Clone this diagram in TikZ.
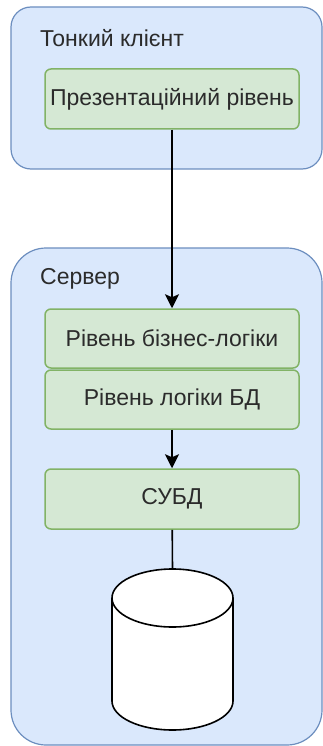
\documentclass[tikz,border=0pt]{standalone}
\usepackage{fontspec}
\setmainfont{Liberation Sans}
\usepackage{xcolor}
\definecolor{tierBlue}{HTML}{DAE8FC}
\definecolor{tierBlueLine}{HTML}{6C8EBF}
\definecolor{layerGreen}{HTML}{D5E8D4}
\definecolor{layerGreenLine}{HTML}{82B366}
\definecolor{labelGray}{HTML}{2B2B2B}
\usepackage{tikz}
\usetikzlibrary{arrows.meta,positioning,calc}
\tikzstyle{tierbox}=[rectangle, draw=tierBlueLine, fill=tierBlue, line width=1.2pt]
\tikzstyle{layerbox}=[rectangle, draw=layerGreenLine, fill=layerGreen, line width=1.5pt, rounded corners=6pt, minimum width=254pt, minimum height=59pt, font=\fontsize{23}{26}\selectfont, text=labelGray, inner sep=0pt]
\tikzstyle{tiertitle}=[anchor=west, font=\fontsize{23}{26}\selectfont, text=labelGray, inner sep=0pt]
\tikzstyle{flowarrow}=[-{Stealth[length=14pt,width=14pt,inset=3pt]}, line width=1.6pt]
\tikzstyle{dbline}=[line width=1.6pt]

\begin{document}
\begin{tikzpicture}[x=1pt, y=-1pt]
        \useasboundingbox (0,0) rectangle (323,746);

        % Тонкий клієнт
        \node[tierbox, rounded corners=20pt, minimum width=311pt, minimum height=162pt] (client) at (166.5,88) {};
        \node[tiertitle] (clientlbl) at (40,38) {Тонкий клієнт};
        \node[layerbox, minimum height=60pt] (pres) at (172,99) {Презентаційний рівень};

        % Сервер
        \node[tierbox, rounded corners=35pt, minimum width=311pt, minimum height=497pt] (server) at (166.5,496.5) {};
        \node[tiertitle] (serverlbl) at (40,279) {Сервер};
        \node[layerbox] (biz) at (172,338.5) {Рівень бізнес-логіки};
        \node[layerbox] (dbl) at (172,399.5) {Рівень логіки БД};
        \node[layerbox, minimum height=60pt] (dbms) at (172,499) {СУБД};

        % База даних
        \coordinate (dbtop) at (172.5,569);
        \draw[dbline] (dbms) -- (dbtop);
        \draw[dbline, fill=white] (112,598) -- (112,701)
              arc[start angle=180, end angle=360, x radius=60.5pt, y radius=29pt] -- (233,598);
        \draw[dbline, fill=white] (172.5,598) ellipse[x radius=60.5pt, y radius=29pt];

        \draw[flowarrow] (pres) -- (biz);
        \draw[flowarrow] (dbl) -- (dbms);
\end{tikzpicture}
\end{document}
